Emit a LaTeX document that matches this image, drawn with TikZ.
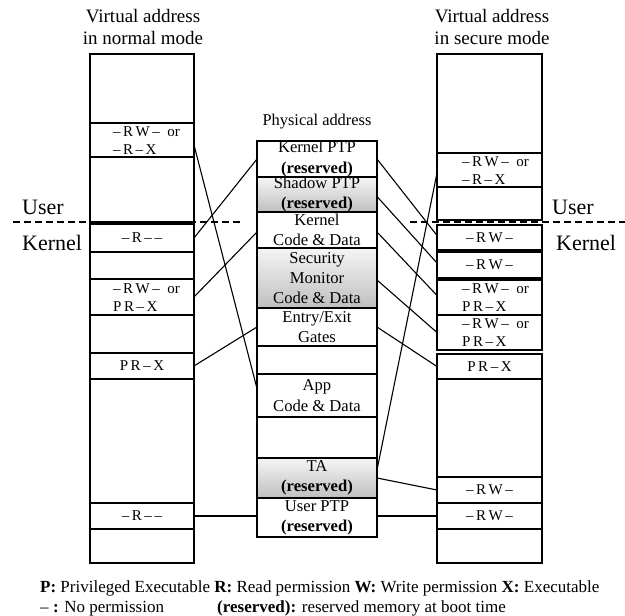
\documentclass[tikz,border=0pt]{standalone}
\usepackage{fontspec}
\setmainfont{Liberation Serif}
\begin{document}
\begin{tikzpicture}[x=1pt,y=-1pt,
  box/.style={draw, line width=2pt, inner sep=0pt, outer sep=0pt},
  gbox/.style={box, top color=gray!8, bottom color=gray!50},
  lcol/.style={box, minimum width=104pt},
  rcol/.style={box, minimum width=105pt},
  mcol/.style={box, minimum width=120pt},
  perm/.style={font=\fontsize{15}{18}\selectfont, inner sep=0pt, align=left},
  mtxt/.style={font=\fontsize{16.6}{20.2}\selectfont, inner sep=0pt, align=center},
  head/.style={font=\fontsize{19}{23}\selectfont, inner sep=0pt, align=center},
  side/.style={font=\fontsize{22}{26}\selectfont, inner sep=0pt, anchor=west},
  leg/.style={font=\fontsize{17}{20}\selectfont, inner sep=0pt, anchor=base west},
  conn/.style={line width=1.1pt},
  sep/.style={line width=2pt, dash pattern=on 7pt off 4pt},
]
\useasboundingbox (0,0) rectangle (625,616);

% headings
\node[head] (hl) at (143,27) {Virtual address\\in normal mode};
\node[head] (hr) at (492,27) {Virtual address\\in secure mode};
\node[font=\fontsize{16.4}{20}\selectfont, inner sep=0pt] (hm) at (317,122) {Physical address};

% left column
\node[lcol, minimum height=69pt]  (L1)  at (142,88.5) {};
\node[lcol, minimum height=34pt]  (L2)  at (142,140) {};
\node[lcol, minimum height=65pt]  (L3)  at (142,189.5) {};
\node[lcol, minimum height=28pt]  (L4)  at (142,238) {};
\node[lcol, minimum height=27pt]  (L5)  at (142,265.5) {};
\node[lcol, minimum height=36pt]  (L6)  at (142,297) {};
\node[lcol, minimum height=38pt]  (L7)  at (142,334) {};
\node[lcol, minimum height=26pt]  (L8)  at (142,366) {};
\node[lcol, minimum height=124pt] (L9)  at (142,441) {};
\node[lcol, minimum height=26pt]  (L10) at (142,516) {};
\node[lcol, minimum height=34pt]  (L11) at (142,546) {};

% right column
\node[rcol, minimum height=99pt] (R1)  at (489.5,103.5) {};
\node[rcol, minimum height=34pt] (R2)  at (489.5,170) {};
\node[rcol, minimum height=33pt] (R3)  at (489.5,203.5) {};
\node[rcol, minimum height=25pt] (R4)  at (489.5,237.5) {};
\node[rcol, minimum height=26pt] (R5)  at (489.5,265) {};
\node[rcol, minimum height=35pt] (R6)  at (489.5,297.5) {};
\node[rcol, minimum height=35pt] (R7)  at (489.5,332.5) {};
\node[rcol, minimum height=25pt] (R8)  at (489.5,366.5) {};
\node[rcol, minimum height=98pt] (R9)  at (489.5,428) {};
\node[rcol, minimum height=26pt] (R10) at (489.5,490) {};
\node[rcol, minimum height=26pt] (R11) at (489.5,516) {};
\node[rcol, minimum height=34pt] (R12) at (489.5,546) {};

% middle column
\node[mcol, minimum height=36pt] (M1)  at (317,159) {};
\node[mcol, gbox, minimum height=35pt] (M2)  at (317,194.5) {};
\node[mcol, minimum height=36pt] (M3)  at (317,230) {};
\node[mcol, gbox, minimum height=60pt] (M4)  at (317,278) {};
\node[mcol, minimum height=38pt] (M5)  at (317,327) {};
\node[mcol, minimum height=28pt] (M6)  at (317,360) {};
\node[mcol, minimum height=43pt] (M7)  at (317,395.5) {};
\node[mcol, minimum height=41pt] (M8)  at (317,437.5) {};
\node[mcol, gbox, minimum height=40pt] (M9)  at (317,478) {};
\node[mcol, minimum height=39pt] (M10) at (317,517.5) {};

% middle texts
\node[mtxt] (M1t)  at (M1)  {Kernel PTP\\\textbf{(reserved)}};
\node[mtxt] (M2t)  at (M2)  {Shadow PTP\\\textbf{(reserved)}};
\node[mtxt] (M3t)  at (M3)  {Kernel\\Code \& Data};
\node[mtxt] (M4t)  at (M4)  {Security\\Monitor\\Code \& Data};
\node[mtxt] (M5t)  at (M5)  {Entry/Exit\\Gates};
\node[mtxt] (M7t)  at (M7)  {App\\Code \& Data};
\node[mtxt] (M9t)  at (M9)  {TA\\\textbf{(reserved)}};
\node[mtxt] (M10t) at (M10) {User PTP\\\textbf{(reserved)}};

% left permission texts
\node[perm, anchor=west] (L2t) at (113,141) {–\,R\,W\,– \ or\\–\,R\,–\,X};
\node[perm] (L4t) at (L4) {–\,R\,–\,–};
\node[perm, anchor=west] (L6t) at (113,298) {–\,R\,W\,– \ or\\P\,R\,–\,X};
\node[perm] (L8t) at (L8) {P\,R\,–\,X};
\node[perm] (L10t) at (L10) {–\,R\,–\,–};

% right permission texts
\node[perm, anchor=west] (R2t) at (462,171) {–\,R\,W\,– \ or\\–\,R\,–\,X};
\node[perm] (R4t) at (R4) {–\,R\,W\,–};
\node[perm] (R5t) at (R5) {–\,R\,W\,–};
\node[perm, anchor=west] (R6t) at (462,298) {–\,R\,W\,– \ or\\P\,R\,–\,X};
\node[perm, anchor=west] (R7t) at (462,333) {–\,R\,W\,– \ or\\P\,R\,–\,X};
\node[perm] (R8t) at (R8) {P\,R\,–\,X};
\node[perm] (R10t) at (R10) {–\,R\,W\,–};
\node[perm] (R11t) at (R11) {–\,R\,W\,–};

% user / kernel separators
\coordinate (dl1) at (13,222);
\coordinate (dl2) at (242,222);
\coordinate (dr1) at (410,222);
\coordinate (dr2) at (625,222);
\draw[sep] (dl1) -- (dl2);
\draw[sep] (dr1) -- (dr2);
\node[side] (ul) at (22,207) {User};
\node[side] (kl) at (22,243) {Kernel};
\node[side] (ur) at (552,207) {User};
\node[side] (kr) at (556,243) {Kernel};

% left connectors
\draw[conn] ([yshift=-5pt]L2.east) -- ([yshift=7pt]M7.west);
\draw[conn] (L4.east) -- (M1.west);
\draw[conn] (L6.east) -- ([yshift=-2pt]M3.west);
\draw[conn] (L8.east) -- (M5.west);
\draw[conn] (L10.east) -- (L10.east -| M10.west);

% right connectors
\draw[conn] (M1.east) -- ([yshift=2pt]R4.west);
\draw[conn] ([yshift=-2pt]M2.east) -- ([yshift=2pt]R5.west);
\draw[conn] ([yshift=-2pt]M3.east) -- ([yshift=2pt]R6.west);
\draw[conn] ([yshift=-2pt]M4.east) -- (R7.west);
\draw[conn] (M5.east) -- (R8.west);
\draw[conn] ([yshift=8pt]M9.east) -- ([yshift=-3pt]R2.west);
\draw[conn] (M9.east) -- (R10.west);
\draw[conn] (R11.west -| M10.east) -- (R11.west);

% legend
\node[leg] (lg1) at (40,592) {\textbf{P:} Privileged Executable \textbf{R:} Read permission \textbf{W:} Write permission \textbf{X:} Executable};
\node[leg] (lg2) at (40,612) {– \textbf{:} No permission};
\node[leg] (lg3) at (217,612) {\textbf{(reserved):} reserved memory at boot time};
\end{tikzpicture}
\end{document}
